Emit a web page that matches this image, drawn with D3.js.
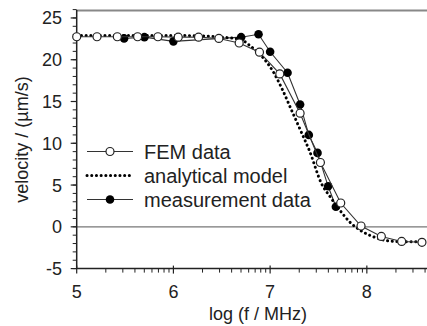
<!DOCTYPE html>
<html><head><meta charset="utf-8">
<script src="https://cdn.jsdelivr.net/npm/d3@7"></script>
<style>body{margin:0;background:#fff}svg{display:block}text{font-family:"Liberation Sans",Arial,sans-serif;fill:#222}</style>
</head><body><svg id="c" width="427" height="326"></svg>
<script>
// FEM data (open circles)
const femX = [5.00,5.21,5.42,5.63,5.84,6.05,6.26,6.47,6.68,6.89,7.10,7.31,7.52,7.73,7.94,8.15,8.36,8.57];
const femY = [22.75,22.75,22.75,22.75,22.75,22.7,22.7,22.55,22.0,20.9,18.3,13.6,7.7,2.85,0.1,-1.15,-1.75,-1.85];
// analytical model (dotted)
const anaX = [5.0,5.5,6.0,6.3,6.5,6.7,6.8,6.93,7.03,7.12,7.22,7.32,7.41,7.53,7.62,7.72,7.83,7.93,8.07,8.24,8.45,8.6];
const anaY = [22.9,22.9,22.9,22.85,22.7,22.4,21.6,20.2,18.6,16.6,14.0,11.4,9.0,5.2,3.6,2.0,0.5,-0.4,-1.2,-1.7,-1.8,-1.75];
// measurement data (filled circles)
const meaX = [5.49,5.70,6.00,6.70,6.88,7.00,7.18,7.31,7.40,7.49,7.60,7.68];
const meaY = [22.55,22.7,22.2,22.7,23.05,20.95,18.45,14.65,11.0,8.85,4.85,2.4];
const xTicks = [5,6,7,8];
const yTicks = [-5,0,5,10,15,20,25];
const legendLabels = ["FEM data","analytical model","measurement data"];

const svg = d3.select("#c");
const x = d3.scaleLinear().domain([5, 8.65]).range([76.7, 429.7]);
const y = d3.scaleLinear().domain([-5, 26]).range([268.6, 9.6]);
const X0 = 76.7, Y0 = 268.6;

const g = svg.append("g");
// top border
g.append("line").attr("x1",X0).attr("x2",427).attr("y1",10.5).attr("y2",10.5).attr("stroke","#888").attr("stroke-width",2);
// zero line
g.append("line").attr("x1",X0).attr("x2",427).attr("y1",y(0)).attr("y2",y(0)).attr("stroke","#777").attr("stroke-width",1.3);

// x axis minor ticks (log decades)
const xMinor = [];
for (let d = 5; d < 9; d++) for (let k = 2; k <= 9; k++) { const v = d + Math.log10(k); if (v < 8.65) xMinor.push(v); }
g.selectAll(".xm").data(xMinor).enter().append("line")
  .attr("x1",d=>x(d)).attr("x2",d=>x(d)).attr("y1",Y0).attr("y2",Y0+4).attr("stroke","#222").attr("stroke-width",1);
g.selectAll(".xM").data(xTicks).enter().append("line")
  .attr("x1",d=>x(d)).attr("x2",d=>x(d)).attr("y1",Y0-3).attr("y2",Y0+5).attr("stroke","#222").attr("stroke-width",1.2);
g.selectAll(".xl").data(xTicks).enter().append("text")
  .attr("x",d=>x(d)).attr("y",298).attr("text-anchor","middle").attr("font-size",18).text(d=>d);

// y axis ticks
const yMinor = d3.range(-5, 27, 1);
g.selectAll(".ym").data(yMinor).enter().append("line")
  .attr("x1",X0-4).attr("x2",X0).attr("y1",d=>y(d)).attr("y2",d=>y(d)).attr("stroke","#222").attr("stroke-width",1);
g.selectAll(".yM").data(yTicks).enter().append("line")
  .attr("x1",X0-6).attr("x2",X0).attr("y1",d=>y(d)).attr("y2",d=>y(d)).attr("stroke","#222").attr("stroke-width",1.2);
g.selectAll(".yl").data(yTicks).enter().append("text")
  .attr("x",62).attr("y",d=>y(d)+6.5).attr("text-anchor","end").attr("font-size",18).text(d=>d);

// axis lines
g.append("line").attr("x1",X0).attr("x2",427).attr("y1",Y0).attr("y2",Y0).attr("stroke","#222").attr("stroke-width",1.5);
g.append("line").attr("x1",X0).attr("x2",X0).attr("y1",10).attr("y2",Y0).attr("stroke","#222").attr("stroke-width",1.5);

// axis titles
svg.append("text").attr("x",258).attr("y",320).attr("text-anchor","middle").attr("font-size",18).text("log (f / MHz)");
svg.append("text").attr("transform","translate(28,139.5) rotate(-90)").attr("text-anchor","middle").attr("font-size",18).text("velocity / (µm/s)");

const line = d3.line().x(d=>x(d[0])).y(d=>y(d[1]));
const mea = meaX.map((v,i)=>[v,meaY[i]]);
const fem = femX.map((v,i)=>[v,femY[i]]);
const ana = anaX.map((v,i)=>[v,anaY[i]]);

const plot = svg.append("g");
// measurement
plot.append("path").datum(mea).attr("d",line).attr("fill","none").attr("stroke","#333").attr("stroke-width",1.1);
plot.selectAll(".mc").data(mea).enter().append("circle").attr("cx",d=>x(d[0])).attr("cy",d=>y(d[1])).attr("r",4.3).attr("fill","#000");
// analytical
const anaLine = d3.line().curve(d3.curveMonotoneX).x(d=>x(d[0])).y(d=>y(d[1]));
plot.append("path").datum(ana).attr("d",anaLine).attr("fill","none").attr("stroke","#000").attr("stroke-width",3).attr("stroke-linecap","round").attr("stroke-dasharray","0.1,4.6");
// FEM
plot.append("path").datum(fem).attr("d",line).attr("fill","none").attr("stroke","#333").attr("stroke-width",1.1);
plot.selectAll(".fc").data(fem).enter().append("circle").attr("cx",d=>x(d[0])).attr("cy",d=>y(d[1])).attr("r",4).attr("fill","#fff").attr("stroke","#222").attr("stroke-width",1.2);

// legend
const ly = [151.5, 175.5, 199.5];
const lg = svg.append("g");
lg.append("line").attr("x1",87).attr("x2",133).attr("y1",ly[0]).attr("y2",ly[0]).attr("stroke","#333").attr("stroke-width",1.1);
lg.append("circle").attr("cx",110).attr("cy",ly[0]).attr("r",4).attr("fill","#fff").attr("stroke","#222").attr("stroke-width",1.2);
lg.append("line").attr("x1",87).attr("x2",133).attr("y1",ly[1]).attr("y2",ly[1]).attr("stroke","#000").attr("stroke-width",3).attr("stroke-linecap","round").attr("stroke-dasharray","0.1,4.6");
lg.append("line").attr("x1",87).attr("x2",133).attr("y1",ly[2]).attr("y2",ly[2]).attr("stroke","#333").attr("stroke-width",1.1);
lg.append("circle").attr("cx",110).attr("cy",ly[2]).attr("r",4.3).attr("fill","#000");
lg.selectAll("text").data(legendLabels).enter().append("text")
  .attr("x",144).attr("y",(d,i)=>ly[i]+7).attr("font-size",20).text(d=>d);
</script></body></html>
